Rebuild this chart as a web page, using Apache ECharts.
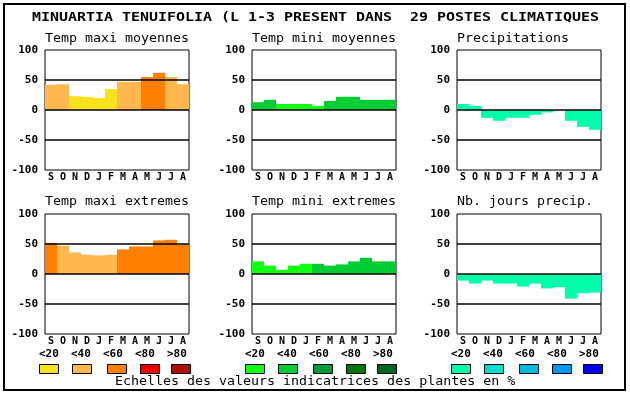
<!DOCTYPE html>
<html><head><meta charset="utf-8">
<script src="https://cdn.jsdelivr.net/npm/echarts@6/dist/echarts.min.js"></script>
<style>html,body{margin:0;padding:0;background:#fff}#c{width:630px;height:394px}</style>
</head><body><div id="c"></div>
<script>
const mainTitle = 'MINUARTIA TENUIFOLIA (L 1-3 PRESENT DANS  29 POSTES CLIMATIQUES';
const footText = 'Echelles des valeurs indicatrices des plantes en %';
const months = ['S','O','N','D','J','F','M','A','M','J','J','A'];
const panelTitles = ['Temp maxi moyennes','Temp mini moyennes','Precipitations','Temp maxi extremes','Temp mini extremes','Nb. jours precip.'];
const yMin = -100, yMax = 100, yStep = 50;
const refLines = [50, 0, -50];
const legendLabels = ['<20','<40','<60','<80','>80'];
const warmColors = ['#F8E21C','#FFB84D','#FF8000','#EE0000','#AE1000'];
const greenColors = ['#11FF11','#00CC33','#009933','#007700','#006622'];
const blueColors = ['#00FFAA','#00DDCC','#00BBDD','#0099EE','#0000FF'];

const tmaxMoy = [42,43,23,22,20,35,47,47,55,62,55,43];
const tmaxMoyCls = [1,1,0,0,0,0,1,1,2,2,1,1];
const tminMoy = [13,17,10,10,10,7,15,22,22,17,17,17];
const tminMoyCls = [1,1,0,0,0,0,1,1,1,1,1,1];
const precip = [10,7,-13,-18,-13,-13,-8,-4,0,-18,-28,-33];
const precipCls = [0,0,0,0,0,0,0,0,0,0,0,0];
const tmaxExt = [52,47,36,32,31,32,41,46,46,56,57,49];
const tmaxExtCls = [2,1,1,1,1,1,2,2,2,2,2,2];
const tminExt = [21,14,7,14,17,17,14,16,21,27,21,21];
const tminExtCls = [0,0,0,0,0,1,1,1,1,1,1,1];
const nbJours = [-11,-16,-11,-16,-16,-21,-16,-24,-22,-41,-32,-31];
const nbJoursCls = [0,0,0,0,0,0,0,0,0,0,0,0];

const panels = [
  {v: tmaxMoy, c: tmaxMoyCls, pal: warmColors},
  {v: tminMoy, c: tminMoyCls, pal: greenColors},
  {v: precip, c: precipCls, pal: blueColors},
  {v: tmaxExt, c: tmaxExtCls, pal: warmColors},
  {v: tminExt, c: tminExtCls, pal: greenColors},
  {v: nbJours, c: nbJoursCls, pal: blueColors}
];
const palettes = [warmColors, greenColors, blueColors];

const lefts = [45, 252, 457];
const tops = [50, 214];
const W = 144, H = 120;
const mono = 'DejaVu Sans Mono';

const grids = [], xAxes = [], yAxes = [], series = [], graphics = [];
panels.forEach((p, i) => {
  const col = i % 3, row = Math.floor(i / 3);
  grids.push({left: lefts[col], top: tops[row], width: W, height: H, show: true,
    borderColor: '#000', borderWidth: 1, backgroundColor: 'transparent', containLabel: false});
  xAxes.push({type: 'category', gridIndex: i, data: months,
    axisLine: {show: false}, axisTick: {show: false}, splitLine: {show: false},
    axisLabel: {interval: 0, margin: 2, color: '#000', fontFamily: mono, fontWeight: 'bold', fontSize: 10}});
  yAxes.push({type: 'value', gridIndex: i, min: yMin, max: yMax, interval: yStep,
    axisLine: {show: false}, axisTick: {show: false}, splitLine: {show: false},
    axisLabel: {margin: 7, color: '#000', fontFamily: mono, fontWeight: 'bold', fontSize: 11}});
  series.push({type: 'bar', xAxisIndex: i, yAxisIndex: i, barCategoryGap: '0%', silent: true,
    data: p.v.map((v, k) => ({value: v, itemStyle: {color: p.pal[p.c[k]]}})),
    markLine: {silent: true, symbol: 'none', animation: false,
      label: {show: false}, lineStyle: {color: '#000', width: 1.5, type: 'solid'},
      data: refLines.map(y => ({yAxis: y}))}
  });
  graphics.push({type: 'text', x: lefts[col], y: row === 0 ? 39.5 : 202, scaleX: 1.156,
    style: {text: panelTitles[i], fontFamily: mono, fontSize: 11.5, fill: '#000', align: 'left', verticalAlign: 'middle'}});
});

// outer frame
graphics.push({type: 'rect', shape: {x: 4, y: 4, width: 621, height: 386},
  style: {fill: 'none', stroke: '#000', lineWidth: 2}, z: 10});
graphics.push({type: 'text', x: 32, y: 18, scaleX: 1.30,
  style: {text: mainTitle, fontFamily: mono, fontWeight: 'bold', fontSize: 11.5, fill: '#000', align: 'left', verticalAlign: 'middle'}});
graphics.push({type: 'text', x: 115, y: 382, scaleX: 1.156,
  style: {text: footText, fontFamily: mono, fontSize: 11.5, fill: '#000', align: 'left', verticalAlign: 'middle'}});

const legStart = [39, 245, 451];
const boxOff = [0, 33, 68, 101, 132];
palettes.forEach((pal, g) => {
  legendLabels.forEach((lab, k) => {
    graphics.push({type: 'text', x: legStart[g] + 32 * k, y: 354,
      style: {text: lab, fontFamily: mono, fontWeight: 'bold', fontSize: 11, fill: '#000', align: 'left', verticalAlign: 'middle'}});
    graphics.push({type: 'rect', shape: {x: legStart[g] + boxOff[k] + 0.5, y: 364.5, width: 19, height: 9},
      style: {fill: pal[k], stroke: '#000', lineWidth: 1}});
  });
});

const chart = echarts.init(document.getElementById('c'), null, {renderer: 'canvas'});
chart.setOption({
  animation: false,
  backgroundColor: '#fff',
  grid: grids, xAxis: xAxes, yAxis: yAxes, series: series,
  graphic: graphics
});
</script></body></html>
